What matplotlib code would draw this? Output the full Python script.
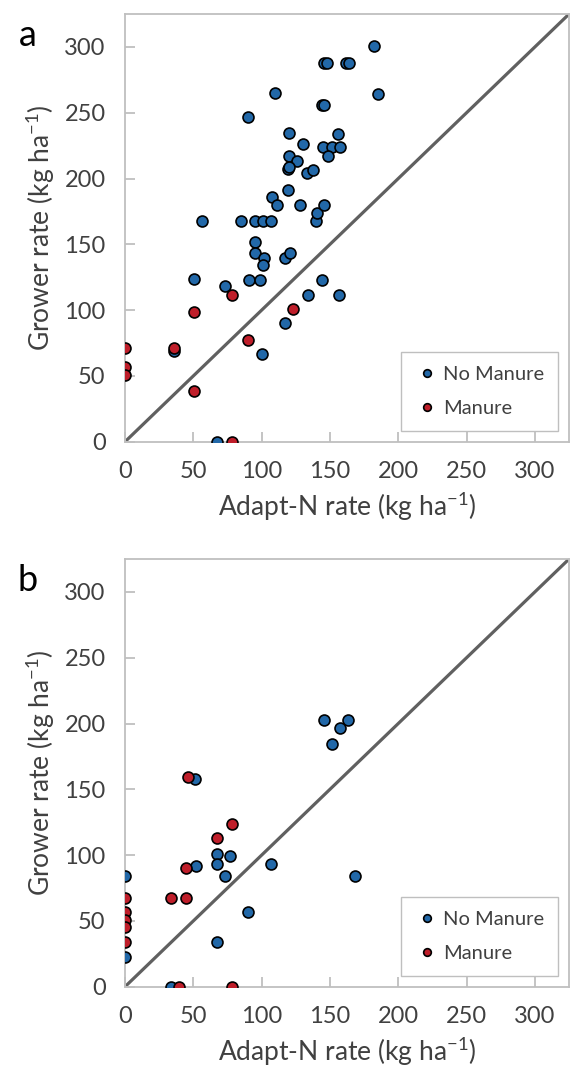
import matplotlib.pyplot as plt
from matplotlib.lines import Line2D

plt.rcParams['font.family'] = ['Lato', 'DejaVu Sans']
plt.rcParams['mathtext.fontset'] = 'custom'
plt.rcParams['mathtext.rm'] = 'Lato'

# panel a
a_blue_x = [56, 85, 95, 101, 107, 140, 90, 110, 145.5, 147.5, 162, 164, 182, 185,
            144, 146, 120, 130, 120, 126, 119, 120, 133, 137.5,
            145, 151.5, 157, 156, 148.5,
            119, 107.5, 111.5, 128, 140.5, 145.5,
            95.5, 95.5, 102, 101, 117, 121,
            50.5, 91, 99, 144, 73, 134, 156.5, 117, 100.5, 35.5, 67]
a_blue_y = [168, 168, 168, 168, 168, 168, 247, 265, 287.5, 287.5, 287.5, 287.5, 300.5, 264.5,
            256, 256, 234.5, 226, 217.5, 213, 207, 209, 204.5, 206.5,
            224, 224, 224, 233.5, 217,
            191, 186, 180, 180, 174, 180,
            151.5, 143.5, 140, 134.5, 139.5, 143.5,
            124, 123, 123, 123, 118, 111.5, 111.5, 90, 67, 69, 0]
a_red_x = [78.5, 50.5, 123, 90, 36, 0, 0, 0, 50.5, 78.5]
a_red_y = [111.5, 98.5, 101, 77.5, 71.5, 71.5, 56.5, 50.5, 38.5, 0]

# panel b
b_blue_x = [51.5, 67, 76.5, 67, 52, 107, 73, 90, 67, 0, 0, 33.5, 168.5,
            145.5, 163, 157.5, 151.5]
b_blue_y = [157.5, 101, 99, 93.5, 92, 93.5, 84.5, 56.5, 34, 84.5, 22.5, 0, 84.5,
            202.5, 202.5, 196.5, 184.5]
b_red_x = [46, 78.5, 67, 45, 33.5, 45, 0, 0, 0, 0, 0, 39.5, 78.5]
b_red_y = [159, 124, 113, 90, 67.5, 67.5, 67.5, 56.5, 51, 45.5, 34, 0, 0]

ticks = [0, 50, 100, 150, 200, 250, 300]
blue = '#2268a8'
red = '#bf1e2a'
grey_txt = '#404040'
grey_axis = '#bfbfbf'

fig = plt.figure(figsize=(5.7, 10.73), dpi=100)


def draw_panel(ax, bx, by, rx, ry, letter):
    ax.plot([0, 325], [0, 325], color='#606060', lw=2.3, zorder=1)
    ax.scatter(bx, by, s=62, color=blue, edgecolors='black', linewidths=1.2, zorder=3)
    ax.scatter(rx, ry, s=62, color=red, edgecolors='black', linewidths=1.2, zorder=4)
    ax.set_xlim(0, 325)
    ax.set_ylim(0, 325)
    ax.set_xticks(ticks)
    ax.set_yticks(ticks)
    for sp in ax.spines.values():
        sp.set_color(grey_axis)
        sp.set_linewidth(1.3)
    ax.tick_params(direction='in', length=7, width=1.3, color=grey_axis,
                   labelcolor=grey_txt, labelsize=17, pad=14)
    ax.set_xlabel('Adapt-N rate (kg ha$^{-1}$)', fontsize=19, color=grey_txt, labelpad=5)
    ax.set_ylabel('Grower rate (kg ha$^{-1}$)', fontsize=19, color=grey_txt, labelpad=5)
    handles = [Line2D([], [], ls='', marker='o', ms=5.5, mfc=blue, mec='black', mew=1.2),
               Line2D([], [], ls='', marker='o', ms=5.5, mfc=red, mec='black', mew=1.2)]
    leg = ax.legend(handles, ['No Manure', 'Manure'], loc='lower right',
                    bbox_to_anchor=(0.975, 0.025), borderaxespad=0, fancybox=False,
                    framealpha=1, edgecolor=grey_axis, fontsize=14.5, handletextpad=0.25,
                    labelspacing=0.85, borderpad=0.7, handlelength=1.1)
    for t in leg.get_texts():
        t.set_color(grey_txt)
    fig.text(0.048, ax.get_position().y1 - 0.02, letter, fontsize=26, color='black',
             ha='center', va='center')


ax_a = fig.add_axes([0.2193, 0.5883, 0.779, 0.3986])
draw_panel(ax_a, a_blue_x, a_blue_y, a_red_x, a_red_y, 'a')
ax_b = fig.add_axes([0.2193, 0.0804, 0.779, 0.3986])
draw_panel(ax_b, b_blue_x, b_blue_y, b_red_x, b_red_y, 'b')

fig.savefig('out.png', dpi=100)
